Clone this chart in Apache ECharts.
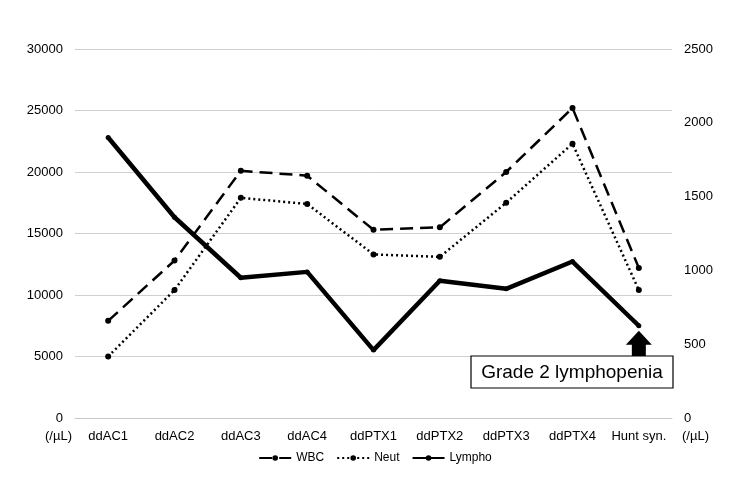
<!DOCTYPE html>
<html><head><meta charset="utf-8">
<script src="https://cdn.jsdelivr.net/npm/echarts@6/dist/echarts.min.js"></script>
<style>html,body{margin:0;padding:0;background:#fff}#c{width:750px;height:478px}</style>
</head><body><div id="c"></div>
<script>
const categories = ['ddAC1','ddAC2','ddAC3','ddAC4','ddPTX1','ddPTX2','ddPTX3','ddPTX4','Hunt syn.'];
const wbc    = [7900, 12800, 20100, 19700, 15300, 15500, 20000, 25200, 12200];
const neut   = [5000, 10400, 17900, 17400, 13300, 13100, 17500, 22300, 10400];
const lympho = [1900, 1360, 950, 990, 460, 930, 875, 1060, 625];
const leftTicks = [0, 30000, 5000];
const rightTicks = [0, 2500, 500];
const unitLabel = '(/µL)';
const noteText = 'Grade 2 lymphopenia';

const FONT = 'Liberation Sans, Arial, sans-serif';
const plain = v => String(v);
const chart = echarts.init(document.getElementById('c'));
const opt = {
  animation: false,
  textStyle: {fontFamily: FONT},
  grid: {left: 75, right: 78, top: 49, bottom: 60, containLabel: false},
  legend: {
    bottom: 9, left: 'center', itemWidth: 32, itemHeight: 7, itemGap: 12,
    textStyle: {fontSize: 12, color: '#000', fontFamily: FONT},
    data: ['WBC', 'Neut', 'Lympho']
  },
  xAxis: {
    type: 'category', data: categories, boundaryGap: true,
    axisLine: {show: true, lineStyle: {color: '#c8c8c8'}},
    axisTick: {show: false},
    axisLabel: {color: '#000', fontSize: 13, margin: 12, interval: 0, fontFamily: FONT}
  },
  yAxis: [
    {type: 'value', min: leftTicks[0], max: leftTicks[1], interval: leftTicks[2],
     axisLine: {show: false}, axisTick: {show: false},
     splitLine: {lineStyle: {color: '#d0d0d0', width: 1}},
     axisLabel: {color: '#000', fontSize: 13, margin: 12, formatter: plain, fontFamily: FONT}},
    {type: 'value', min: rightTicks[0], max: rightTicks[1], interval: rightTicks[2],
     axisLine: {show: false}, axisTick: {show: false}, splitLine: {show: false},
     axisLabel: {color: '#000', fontSize: 13, margin: 12, formatter: plain, fontFamily: FONT}}
  ],
  series: [
    {name: 'WBC', type: 'line', yAxisIndex: 0, data: wbc, symbol: 'circle', symbolSize: 6,
     itemStyle: {color: '#000'},
     lineStyle: {color: '#000', width: 2.5, type: [13, 7]}},
    {name: 'Neut', type: 'line', yAxisIndex: 0, data: neut, symbol: 'circle', symbolSize: 6,
     itemStyle: {color: '#000'},
     lineStyle: {color: '#000', width: 2.5, type: [2, 3]}},
    {name: 'Lympho', type: 'line', yAxisIndex: 1, data: lympho, symbol: 'circle', symbolSize: 5,
     itemStyle: {color: '#000'},
     lineStyle: {color: '#000', width: 4.5, type: 'solid'}, z: 3}
  ]
};
chart.setOption(opt);

const last = categories.length - 1;
const p = chart.convertToPixel({xAxisIndex: 0, yAxisIndex: 1}, [last, lympho[last]]);
const ax = p[0];
const boxTop = 356, boxBottom = 388, boxRight = 673, boxLeft = 471;
chart.setOption({
  graphic: [
    {type: 'text', left: 45, top: 430, style: {text: unitLabel, fill: '#000', font: '13px ' + FONT}},
    {type: 'text', left: 682, top: 430, style: {text: unitLabel, fill: '#000', font: '13px ' + FONT}},
    {type: 'polygon', shape: {points: [
      [ax, p[1] + 5], [ax + 13, p[1] + 19], [ax + 7, p[1] + 19], [ax + 7, boxTop],
      [ax - 7, boxTop], [ax - 7, p[1] + 19], [ax - 13, p[1] + 19]
    ]}, style: {fill: '#000'}},
    {type: 'rect', shape: {x: boxLeft, y: boxTop, width: boxRight - boxLeft, height: boxBottom - boxTop},
     style: {fill: '#fff', stroke: '#000', lineWidth: 1.2}},
    {type: 'text', x: (boxLeft + boxRight) / 2, y: (boxTop + boxBottom) / 2 + 1,
     style: {text: noteText, font: '19px ' + FONT, fill: '#000', align: 'center', verticalAlign: 'middle'}}
  ]
});
</script></body></html>
